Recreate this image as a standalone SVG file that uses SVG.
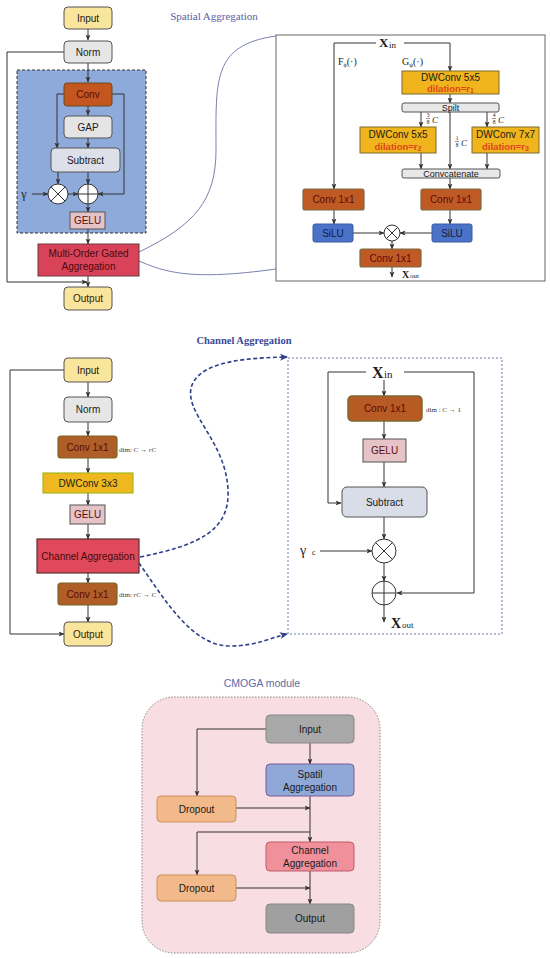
<svg xmlns="http://www.w3.org/2000/svg" width="550" height="958" viewBox="0 0 550 958">
<defs>
<marker id="ah" viewBox="0 0 6 6" refX="5.5" refY="3" markerWidth="6" markerHeight="6" markerUnits="userSpaceOnUse" orient="auto"><path d="M0,0.5 L6,3 L0,5.5 L1.5,3 z" fill="#333"/></marker>
<marker id="ahb" viewBox="0 0 8 8" refX="7" refY="4" markerWidth="8" markerHeight="8" markerUnits="userSpaceOnUse" orient="auto"><path d="M0,0.5 L8,4 L0,7.5 L2,4 z" fill="#2e3f8a"/></marker>
<style>
.n{font-family:"Liberation Sans",Arial,sans-serif;font-size:10px;fill:#1a1a1a;text-anchor:middle;dominant-baseline:central}
.s{font-family:"Liberation Serif","Times New Roman",serif;fill:#1a1a1a}
.ln{fill:none;stroke:#333;stroke-width:1}
.la{fill:none;stroke:#333;stroke-width:1;marker-end:url(#ah)}
.bx{stroke:#555;stroke-width:1}
.cur{fill:none;stroke:#7a80b0;stroke-width:1}
.dcur{fill:none;stroke:#2e3f8a;stroke-width:1.6;stroke-dasharray:4 2.5;marker-end:url(#ahb)}
.gold{fill:#f0b41c;stroke:#7a6a30;stroke-width:1}
.bar{fill:#e8e8e8;stroke:#555;stroke-width:1}
.cv{fill:#c05a24;stroke:#7a6a40;stroke-width:1.2}
.silu{fill:#4a72c8;stroke:#3a5aa0;stroke-width:1}
.dil{font-family:"Liberation Sans",Arial,sans-serif;font-size:9.5px;font-weight:bold;fill:#e0451e;text-anchor:middle;dominant-baseline:central}
.fr{font-family:"Liberation Serif",serif;font-size:5.5px;fill:#222;text-anchor:middle}
.fc{font-family:"Liberation Serif",serif;font-size:9px;font-style:italic;fill:#222}
.dim{font-family:"Liberation Serif","Times New Roman",serif;font-size:7px;fill:#333}
.circ{fill:#fff;stroke:#333;stroke-width:1}
</style>
</defs>

<!-- ================= Spatial Aggregation ================= -->
<text x="214" y="20" class="s" style="font-size:11px;fill:#5a5ea6" text-anchor="middle">Spatial Aggregation</text>

<g id="sa-block">
<rect x="17" y="70" width="129" height="163" fill="#8eaadb" stroke="#333" stroke-width="1" stroke-dasharray="3 2"/>
</g>

<g id="sa-connectors">
<line class="la" x1="88" y1="29" x2="88" y2="40"/>
<line class="la" x1="88" y1="63" x2="88" y2="82"/>
<line class="la" x1="88" y1="106" x2="88" y2="115"/>
<line class="la" x1="88" y1="138" x2="88" y2="148"/>
<polyline class="la" points="64,94 57,94 57,148"/>
<polyline class="la" points="112,94 124,94 124,194 98,194"/>
<line class="la" x1="58" y1="172" x2="58" y2="184"/>
<line class="la" x1="88" y1="172" x2="88" y2="184"/>
<line class="la" x1="32" y1="194" x2="48" y2="194"/>
<line class="la" x1="68" y1="194" x2="78" y2="194"/>
<line class="la" x1="88" y1="204" x2="88" y2="212"/>
<line class="la" x1="88" y1="229" x2="88" y2="244"/>
<line class="la" x1="88" y1="276" x2="88" y2="287"/>
<polyline class="la" points="64,52 7,52 7,282 87,282"/>
<path class="cur" d="M139,252 C195,225 216,200 216,150 C216,80 212,45 276,36"/>
<path class="cur" d="M139,261 C165,272 190,281 276,269"/>
</g>

<g id="sa-input"><rect class="bx" x="64" y="7" width="48" height="22" rx="4" fill="#f9e69c"/><text class="n" x="88" y="18">Input</text></g>
<g id="sa-norm"><rect class="bx" x="64" y="41" width="48" height="22" rx="4" fill="#e6e6e6"/><text class="n" x="88" y="52">Norm</text></g>
<g id="sa-conv"><rect x="64" y="83" width="48" height="23" rx="3" fill="#c4561f" stroke="#6b4a1a" stroke-width="1"/><text class="n" x="88" y="94.5" style="fill:#5a0a0a">Conv</text></g>
<g id="sa-gap"><rect class="bx" x="64" y="116" width="48" height="22" rx="4" fill="#e4e4e4"/><text class="n" x="88" y="127">GAP</text></g>
<g id="sa-subtract"><rect class="bx" x="51" y="148" width="69" height="24" rx="4" fill="#dde0e8"/><text class="n" x="85.5" y="160">Subtract</text></g>
<g id="sa-times"><circle class="circ" cx="58" cy="194" r="10"/><path class="ln" d="M50.9,186.9 L65.1,201.1 M65.1,186.9 L50.9,201.1"/></g>
<g id="sa-plus"><circle class="circ" cx="88" cy="194" r="10"/><path class="ln" d="M78,194 L98,194 M88,184 L88,204"/></g>
<text x="24" y="198" class="s" style="font-size:12px;fill:#222" text-anchor="middle">γ</text>
<g id="sa-gelu"><rect class="bx" x="70" y="212" width="35" height="17" fill="#e6c3c6"/><text class="n" x="87.5" y="220.5" style="fill:#5a1010">GELU</text></g>
<g id="sa-moga"><rect x="38" y="244" width="101" height="32" fill="#d9435a" stroke="#6a3a3a" stroke-width="1"/><text class="n" x="88.5" y="253.5" style="fill:#4a0a0a">Multi-Order Gated</text><text class="n" x="88.5" y="266.5" style="fill:#4a0a0a">Aggregation</text></g>
<g id="sa-output"><rect class="bx" x="64" y="287" width="48" height="23" rx="4" fill="#f9e69c"/><text class="n" x="88" y="298.5" style="fill:#3a1a00">Output</text></g>

<!-- MOGA detail box -->
<g id="moga-detail">
<rect x="276" y="35" width="269" height="246" fill="#fff" stroke="#666" stroke-width="1"/>
</g>
<g id="moga-connectors">
<polyline class="la" points="376,43 334,43 334,189"/>
<polyline class="la" points="404,43 450,43 450,71"/>
<line class="la" x1="450" y1="94" x2="450" y2="103"/>
<line class="la" x1="421" y1="112" x2="421" y2="127"/>
<line class="la" x1="487" y1="112" x2="487" y2="127"/>
<line class="la" x1="450" y1="112" x2="450" y2="169"/>
<line class="la" x1="421" y1="153" x2="421" y2="169"/>
<line class="la" x1="487" y1="153" x2="487" y2="169"/>
<line class="la" x1="450" y1="178" x2="450" y2="189"/>
<line class="la" x1="334" y1="210" x2="334" y2="224"/>
<line class="la" x1="450" y1="210" x2="450" y2="224"/>
<line class="la" x1="353" y1="233" x2="384" y2="233"/>
<line class="la" x1="432" y1="233" x2="400" y2="233"/>
<line class="la" x1="392" y1="241" x2="392" y2="249"/>
<line class="la" x1="392" y1="267" x2="392" y2="277"/>
</g>
<text x="379" y="47" class="s" style="font-size:13px;font-weight:bold">X</text><text x="389" y="48" class="s" style="font-size:9px">in</text>
<text x="338" y="65" class="s" style="font-size:10px">F<tspan style="font-size:6px" dy="2">ϕ</tspan><tspan dy="-2">(·)</tspan></text>
<text x="402" y="65" class="s" style="font-size:10px">G<tspan style="font-size:6px" dy="2">ψ</tspan><tspan dy="-2">(·)</tspan></text>
<g id="m-dw1"><rect class="gold" x="402" y="71" width="97" height="23"/><text class="n" x="450.5" y="77.5">DWConv 5x5</text><text class="dil" x="450.5" y="88">dilation=r<tspan style="font-size:7px" dy="2">1</tspan></text></g>
<g id="m-split"><rect class="bar" x="402" y="103" width="97" height="9" rx="2"/><text class="n" x="450.5" y="107.5" style="font-size:9px">Spilt</text></g>
<g id="m-frac1"><text class="fr" x="428" y="117">3</text><line x1="426" y1="118.5" x2="430" y2="118.5" stroke="#222" stroke-width="0.5"/><text class="fr" x="428" y="124">8</text><text class="fc" x="432" y="123">C</text></g>
<g id="m-frac2"><text class="fr" x="494" y="117">4</text><line x1="492" y1="118.5" x2="496" y2="118.5" stroke="#222" stroke-width="0.5"/><text class="fr" x="494" y="124">8</text><text class="fc" x="498" y="123">C</text></g>
<g id="m-frac3"><text class="fr" x="457" y="140">1</text><line x1="455" y1="141.5" x2="459" y2="141.5" stroke="#222" stroke-width="0.5"/><text class="fr" x="457" y="147">8</text><text class="fc" x="461" y="146">C</text></g>
<g id="m-dw2"><rect class="gold" x="360" y="127" width="76" height="26"/><text class="n" x="398" y="134.5">DWConv 5x5</text><text class="dil" x="398" y="146">dilation=r<tspan style="font-size:7px" dy="2">2</tspan></text></g>
<g id="m-dw3"><rect class="gold" x="472" y="127" width="67" height="26"/><text class="n" x="505.5" y="134.5">DWConv 7x7</text><text class="dil" x="505.5" y="146">dilation=r<tspan style="font-size:7px" dy="2">3</tspan></text></g>
<g id="m-concat"><rect class="bar" x="402" y="169" width="98" height="9" rx="2"/><text class="n" x="451" y="173.5" style="font-size:9px">Convcatenate</text></g>
<g id="m-conv-l"><rect class="cv" x="303" y="189" width="61" height="21" rx="2"/><text class="n" x="333.5" y="199.5" style="fill:#5a0a0a">Conv 1x1</text></g>
<g id="m-conv-r"><rect class="cv" x="421" y="189" width="60" height="21" rx="2"/><text class="n" x="451" y="199.5" style="fill:#5a0a0a">Conv 1x1</text></g>
<g id="m-silu-l"><rect class="silu" x="313" y="224" width="40" height="18" rx="2"/><text class="n" x="333" y="233" style="fill:#1a1a3a">SiLU</text></g>
<g id="m-silu-r"><rect class="silu" x="432" y="224" width="40" height="18" rx="2"/><text class="n" x="452" y="233" style="fill:#1a1a3a">SiLU</text></g>
<g id="m-times"><circle class="circ" cx="392" cy="233" r="8"/><path class="ln" d="M386.3,227.3 L397.7,238.7 M397.7,227.3 L386.3,238.7"/></g>
<g id="m-conv-o"><rect class="cv" x="360" y="249" width="61" height="18" rx="2"/><text class="n" x="390.5" y="258" style="fill:#5a0a0a">Conv 1x1</text></g>
<text x="402" y="278" class="s" style="font-size:10px;font-weight:bold">X</text><text x="410" y="278" class="s" style="font-size:7px">out</text>

<!-- ================= Channel Aggregation ================= -->
<text x="244" y="344" class="s" style="font-size:10.5px;font-weight:bold;fill:#3a4a9a" text-anchor="middle">Channel Aggregation</text>

<g id="ca-connectors">
<line class="la" x1="88" y1="382" x2="88" y2="397"/>
<line class="la" x1="88" y1="422" x2="88" y2="436"/>
<line class="la" x1="88" y1="458" x2="88" y2="473"/>
<line class="la" x1="88" y1="493" x2="88" y2="505"/>
<line class="la" x1="88" y1="524" x2="88" y2="539"/>
<line class="la" x1="88" y1="573" x2="88" y2="583"/>
<line class="la" x1="88" y1="605" x2="88" y2="622"/>
<polyline class="la" points="64,370 10,370 10,634 64,634"/>
<path class="dcur" d="M140,557 C200,545 230,530 228,490 C226,440 182,412 192,385 C202,360 250,358 287,357"/>
<path class="dcur" d="M139,563 C165,600 192,646 230,646 C256,646 270,638 287,634"/>
</g>
<g id="ca-input"><rect class="bx" x="64" y="358" width="48" height="24" rx="4" fill="#f9e69c"/><text class="n" x="88" y="370">Input</text></g>
<g id="ca-norm"><rect class="bx" x="64" y="397" width="48" height="25" rx="4" fill="#e6e6e6"/><text class="n" x="88" y="409.5">Norm</text></g>
<g id="ca-conv1"><rect x="58" y="436" width="59" height="22" rx="3" fill="#b05e28" stroke="#7a6420" stroke-width="1.2"/><text class="n" x="87.5" y="447" style="fill:#5a0a0a">Conv 1x1</text></g>
<text x="119" y="452" class="dim">dim: <tspan font-style="italic">C</tspan> → <tspan font-style="italic">rC</tspan></text>
<g id="ca-dwconv"><rect x="43" y="473" width="90" height="20" fill="#f0b820" stroke="#a8b820" stroke-width="1.2"/><text class="n" x="88" y="483">DWConv 3x3</text></g>
<g id="ca-gelu"><rect class="bx" x="70" y="505" width="35" height="19" fill="#e6c3c6"/><text class="n" x="87.5" y="514.5" style="fill:#5a1010">GELU</text></g>
<g id="ca-ca"><rect x="37" y="539" width="102" height="34" fill="#e0485c" stroke="#5a3030" stroke-width="1.2"/><text class="n" x="88" y="556" style="fill:#4a0a0a">Channel Aggregation</text></g>
<g id="ca-conv2"><rect x="58" y="583" width="59" height="22" rx="3" fill="#b05e28" stroke="#7a6420" stroke-width="1.2"/><text class="n" x="87.5" y="594" style="fill:#5a0a0a">Conv 1x1</text></g>
<text x="119" y="597" class="dim">dim: <tspan font-style="italic">rC</tspan> → <tspan font-style="italic">C</tspan></text>
<g id="ca-output"><rect class="bx" x="64" y="622" width="48" height="24" rx="4" fill="#f9e69c"/><text class="n" x="88" y="634" style="fill:#3a1a00">Output</text></g>

<!-- CA detail -->
<g id="ca-detail"><rect x="288" y="358" width="214" height="276" fill="#fff" stroke="#6a7aa8" stroke-width="1" stroke-dasharray="2 2"/></g>
<g id="cad-connectors">
<polyline class="la" points="366,372 328,372 328,503 341,503"/>
<polyline class="la" points="404,372 474,372 474,593 397,593"/>
<line class="la" x1="384" y1="380" x2="384" y2="396"/>
<line class="la" x1="384" y1="421" x2="384" y2="439"/>
<line class="la" x1="384" y1="462" x2="384" y2="487"/>
<line class="la" x1="384" y1="517" x2="384" y2="539"/>
<line class="la" x1="320" y1="551" x2="372" y2="551"/>
<line class="la" x1="384" y1="563" x2="384" y2="581"/>
<line class="la" x1="384" y1="605" x2="384" y2="622"/>
</g>
<text x="372" y="378" class="s" style="font-size:16px;font-weight:bold">X</text><text x="384" y="378" class="s" style="font-size:11px">in</text>
<g id="cad-conv"><rect x="348" y="396" width="74" height="25" rx="4" fill="#b85a24" stroke="#7a6a30" stroke-width="1.5"/><text class="n" x="385" y="408.5" style="fill:#5a0a0a">Conv 1x1</text></g>
<text x="426" y="412" class="dim">dim : <tspan font-style="italic">C</tspan> → 1</text>
<g id="cad-gelu"><rect class="bx" x="363" y="439" width="43" height="23" fill="#e6c3c6"/><text class="n" x="384.5" y="450.5" style="fill:#5a1010">GELU</text></g>
<g id="cad-subtract"><rect class="bx" x="342" y="487" width="85" height="30" rx="5" fill="#d8dde8"/><text class="n" x="384.5" y="502">Subtract</text></g>
<g id="cad-times"><circle class="circ" cx="384" cy="551" r="12"/><path class="ln" d="M375.5,542.5 L392.5,559.5 M392.5,542.5 L375.5,559.5"/></g>
<g id="cad-plus"><circle class="circ" cx="384" cy="593" r="12"/><path class="ln" d="M372,593 L396,593 M384,581 L384,605"/></g>
<text x="300" y="555" class="s" style="font-size:14px">γ</text><text x="312" y="555" class="s" style="font-size:8px">c</text>
<text x="391" y="628" class="s" style="font-size:14px;font-weight:bold">X</text><text x="402" y="628" class="s" style="font-size:9px">out</text>

<!-- ================= CMOGA module ================= -->
<text x="262" y="687" style="font-family:'Liberation Sans',Arial,sans-serif;font-size:10.5px;fill:#5a6aaa" text-anchor="middle">CMOGA module</text>
<g id="cmoga-frame"><rect x="142" y="697" width="238" height="256" rx="32" fill="#f8dde3" stroke="#888" stroke-width="1" stroke-dasharray="1.5 1.5"/></g>
<g id="cm-connectors">
<polyline class="la" points="266,729 197,729 197,796"/>
<line class="la" x1="310" y1="743" x2="310" y2="764"/>
<line class="la" x1="310" y1="796" x2="310" y2="842"/>
<line class="la" x1="236" y1="808" x2="310" y2="808"/>
<polyline class="la" points="310,832 197,832 197,875"/>
<line class="la" x1="310" y1="871" x2="310" y2="904"/>
<line class="la" x1="236" y1="888" x2="310" y2="888"/>
</g>
<g id="cm-input"><rect x="266" y="715" width="88" height="28" rx="4" fill="#a8a8a8" stroke="#888" stroke-width="1"/><text class="n" x="310" y="729">Input</text></g>
<g id="cm-spatial"><rect x="266" y="764" width="88" height="32" rx="4" fill="#8fa8d8" stroke="#7a5a9a" stroke-width="1"/><text class="n" x="310" y="774">Spatil</text><text class="n" x="310" y="787">Aggregation</text></g>
<g id="cm-dropout1"><rect x="157" y="796" width="79" height="26" rx="4" fill="#f2b98a" stroke="#c8905a" stroke-width="1"/><text class="n" x="196.5" y="809">Dropout</text></g>
<g id="cm-channel"><rect x="266" y="842" width="88" height="29" rx="4" fill="#f0909a" stroke="#c05a6a" stroke-width="1"/><text class="n" x="310" y="850.5">Channel</text><text class="n" x="310" y="863.5">Aggregation</text></g>
<g id="cm-dropout2"><rect x="157" y="875" width="79" height="26" rx="4" fill="#f2b98a" stroke="#c8905a" stroke-width="1"/><text class="n" x="196.5" y="888">Dropout</text></g>
<g id="cm-output"><rect x="266" y="904" width="88" height="29" rx="4" fill="#a0a0a0" stroke="#888" stroke-width="1"/><text class="n" x="310" y="918.5">Output</text></g>
</svg>
